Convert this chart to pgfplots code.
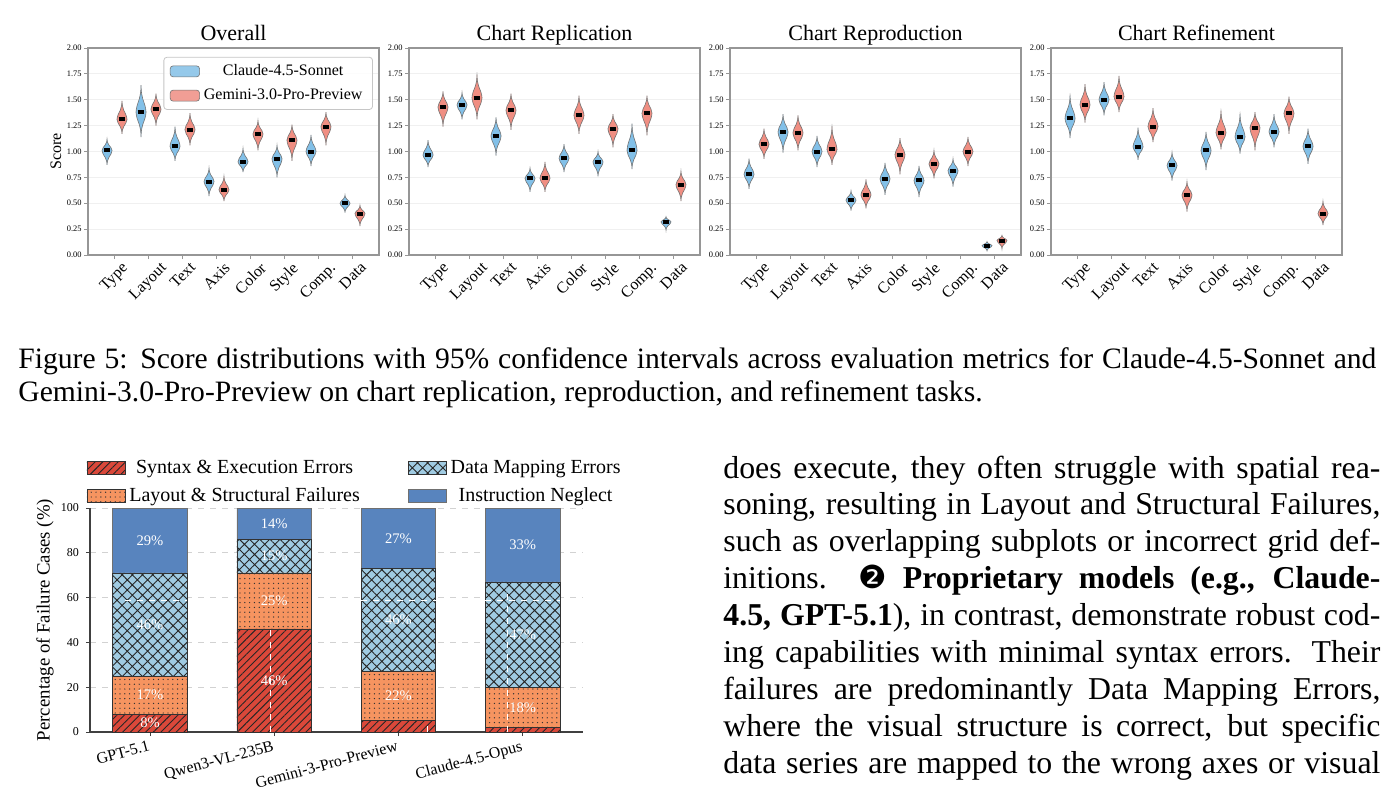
\documentclass[border=0pt]{standalone}
\usepackage{fontspec}
\setmainfont{Liberation Serif}
\newfontfamily\djv{DejaVu Sans}
\usepackage{pgfplots}
\pgfplotsset{compat=1.18}
\usetikzlibrary{patterns.meta}

\definecolor{vblue}{RGB}{130,192,232}
\definecolor{vred}{RGB}{240,142,130}
\definecolor{vedge}{RGB}{115,115,115}
\definecolor{cSyn}{RGB}{218,72,58}
\definecolor{cLay}{RGB}{246,148,96}
\definecolor{cMap}{RGB}{160,203,226}
\definecolor{cIns}{RGB}{88,132,190}
\definecolor{bedge}{RGB}{50,50,50}
\definecolor{frm}{RGB}{150,150,150}

% violin: #1 x, #2 low tip, #3 median, #4 high tip, #5 colour
\newcommand{\V}[5]{%
\pgfmathsetmacro\vx{#1}%
\pgfmathsetmacro\da{#3-#2}\pgfmathsetmacro\db{#4-#3}%
\pgfmathsetmacro\ya{#3-0.75*\da}\pgfmathsetmacro\yb{#3-0.5*\da}\pgfmathsetmacro\yc{#3-0.25*\da}%
\pgfmathsetmacro\yd{#3+0.25*\db}\pgfmathsetmacro\ye{#3+0.5*\db}\pgfmathsetmacro\yf{#3+0.75*\db}%
\pgfmathsetmacro\ra{\vx+0.011}\pgfmathsetmacro\rb{\vx+0.05}\pgfmathsetmacro\rc{\vx+0.115}\pgfmathsetmacro\rd{\vx+0.148}%
\pgfmathsetmacro\la{\vx-0.011}\pgfmathsetmacro\lb{\vx-0.05}\pgfmathsetmacro\lc{\vx-0.115}\pgfmathsetmacro\ld{\vx-0.148}%
\pgfmathsetmacro\ml{\vx-0.1}\pgfmathsetmacro\mr{\vx+0.1}%
\edef\tmp{\noexpand\addplot[fill=#5, draw=vedge, line width=0.3pt, smooth, tension=0.55, forget plot] coordinates {(\vx,#2) (\ra,\ya) (\rb,\yb) (\rc,\yc) (\rd,#3) (\rc,\yd) (\rb,\ye) (\ra,\yf) (\vx,#4) (\la,\yf) (\lb,\ye) (\lc,\yd) (\ld,#3) (\lc,\yc) (\lb,\yb) (\la,\ya) (\vx,#2)} -- cycle;}\tmp
\edef\tmp{\noexpand\addplot[black, line width=2pt, forget plot] coordinates {(\ml,#3) (\mr,#3)};}\tmp
}
\newcommand{\VB}[4]{\V{#1-0.22}{#2}{#3}{#4}{vblue}}
\newcommand{\VR}[4]{\V{#1+0.22}{#2}{#3}{#4}{vred}}

\pgfplotsset{
 vio/.style={
  scale only axis, width=145.5pt, height=103.5pt, anchor=north west,
  xmin=-0.78, xmax=7.78, ymin=0, ymax=2,
  xtick={0,1,2,3,4,5,6,7},
  xticklabels={\rotatebox{45}{Type},\rotatebox{45}{Layout},\rotatebox{45}{Text},\rotatebox{45}{Axis},\rotatebox{45}{Color},\rotatebox{45}{Style},\rotatebox{45}{Comp.},\rotatebox{45}{Data}},
  xticklabel style={font=\fontsize{8}{9}\selectfont, anchor=north, inner sep=1pt},
  ytick={0,0.25,0.5,0.75,1,1.25,1.5,1.75,2},
  yticklabel style={font=\fontsize{4.2}{5}\selectfont, inner sep=1pt,
    /pgf/number format/.cd, fixed, fixed zerofill, precision=2, assume math mode=true},
  ymajorgrids, major grid style={gray!12, line width=0.4pt},
  axis line style={draw=frm, line width=0.6pt},
  tick style={draw=frm, line width=0.4pt}, major tick length=2pt, tick align=outside,
  xtick pos=bottom, ytick pos=left,
  title style={font=\fontsize{11}{13}\selectfont, at={(0.5,1)}, anchor=base, yshift=-2pt},
 },
 barax/.style={
  scale only axis, width=246.5pt, height=112pt, anchor=north west, at={(45pt,-254pt)},
  xmin=-0.483, xmax=3.486, ymin=0, ymax=100,
 },
 barleg/.style={legend image code/.code={\draw[##1] (0pt,-3.15pt) rectangle (19pt,3.15pt);}},
}

\begin{document}
\begin{tikzpicture}
\useasboundingbox (0,0) rectangle (696pt,-404.5pt);

% ---------------- Overall ----------------
\begin{axis}[vio, at={(44pt,-24pt)}, title={Overall},
  ylabel={Score}, ylabel style={font=\fontsize{8}{9}\selectfont, at={(axis description cs:-0.11,0.5)}, anchor=center},
  legend style={at={(0.979,0.957)}, anchor=north east, font=\fontsize{8}{9}\selectfont,
    draw=gray!45, rounded corners=1.5pt, fill=white, fill opacity=0.85, text opacity=1,
    inner xsep=3pt, inner ysep=1.5pt, row sep=1.2pt},
  legend image code/.code={\draw[#1] (0pt,-2.75pt) rectangle (14.7pt,2.75pt);},
]
\addlegendimage{fill=vblue, draw=vedge, line width=0.3pt}
\addlegendentry{Claude-4.5-Sonnet}
\addlegendimage{fill=vred, draw=vedge, line width=0.3pt}
\addlegendentry{Gemini-3.0-Pro-Preview}
\VB{0}{0.87}{1.01}{1.12}\VR{0}{1.17}{1.31}{1.49}
\VB{1}{1.14}{1.38}{1.64}\VR{1}{1.25}{1.41}{1.56}
\VB{2}{0.91}{1.05}{1.24}\VR{2}{1.06}{1.21}{1.37}
\VB{3}{0.57}{0.71}{0.84}\VR{3}{0.52}{0.63}{0.76}
\VB{4}{0.80}{0.90}{1.03}\VR{4}{1.01}{1.17}{1.30}
\VB{5}{0.75}{0.93}{1.06}\VR{5}{0.91}{1.11}{1.26}
\VB{6}{0.86}{1.00}{1.16}\VR{6}{1.06}{1.24}{1.38}
\VB{7}{0.41}{0.50}{0.58}\VR{7}{0.28}{0.40}{0.48}
\end{axis}

% ---------------- Chart Replication ----------------
\begin{axis}[vio, at={(204.5pt,-24pt)}, title={Chart Replication}]
\VB{0}{0.85}{0.965}{1.11}\VR{0}{1.24}{1.43}{1.58}
\VB{1}{1.31}{1.45}{1.57}\VR{1}{1.31}{1.52}{1.74}
\VB{2}{0.96}{1.15}{1.33}\VR{2}{1.21}{1.40}{1.56}
\VB{3}{0.61}{0.74}{0.84}\VR{3}{0.61}{0.74}{0.90}
\VB{4}{0.80}{0.935}{1.07}\VR{4}{1.17}{1.35}{1.54}
\VB{5}{0.76}{0.90}{1.00}\VR{5}{1.04}{1.22}{1.36}
\VB{6}{0.83}{1.01}{1.27}\VR{6}{1.155}{1.37}{1.54}
\VB{7}{0.24}{0.32}{0.37}\VR{7}{0.52}{0.68}{0.81}
\end{axis}

% ---------------- Chart Reproduction ----------------
\begin{axis}[vio, at={(365pt,-24pt)}, title={Chart Reproduction}]
\VB{0}{0.64}{0.78}{0.93}\VR{0}{0.93}{1.07}{1.22}
\VB{1}{0.99}{1.19}{1.36}\VR{1}{1.01}{1.18}{1.35}
\VB{2}{0.85}{1.00}{1.15}\VR{2}{0.87}{1.02}{1.24}
\VB{3}{0.43}{0.53}{0.62}\VR{3}{0.45}{0.58}{0.73}
\VB{4}{0.58}{0.735}{0.89}\VR{4}{0.78}{0.97}{1.13}
\VB{5}{0.56}{0.72}{0.86}\VR{5}{0.74}{0.88}{1.01}
\VB{6}{0.66}{0.815}{0.93}\VR{6}{0.86}{1.00}{1.14}
\VB{7}{0.04}{0.09}{0.13}\VR{7}{0.06}{0.14}{0.19}
\end{axis}

% ---------------- Chart Refinement ----------------
\begin{axis}[vio, at={(525.5pt,-24pt)}, title={Chart Refinement}]
\VB{0}{1.13}{1.32}{1.54}\VR{0}{1.28}{1.45}{1.65}
\VB{1}{1.35}{1.50}{1.67}\VR{1}{1.38}{1.53}{1.73}
\VB{2}{0.92}{1.045}{1.23}\VR{2}{1.09}{1.24}{1.42}
\VB{3}{0.72}{0.865}{0.99}\VR{3}{0.42}{0.58}{0.71}
\VB{4}{0.82}{1.01}{1.19}\VR{4}{1.02}{1.18}{1.39}
\VB{5}{0.98}{1.14}{1.36}\VR{5}{1.01}{1.23}{1.38}
\VB{6}{1.04}{1.19}{1.36}\VR{6}{1.17}{1.37}{1.53}
\VB{7}{0.88}{1.05}{1.22}\VR{7}{0.29}{0.40}{0.52}
\end{axis}

% ---------------- Caption ----------------
\node[anchor=base west, inner sep=0pt] at (9pt,-184pt) {\fontsize{14.8}{16.5}\selectfont\makebox[679pt][s]{Figure 5: Score distributions with 95\% confidence intervals across evaluation metrics for Claude-4.5-Sonnet and}};
\node[anchor=base west, inner sep=0pt] at (9pt,-200.5pt) {\fontsize{14.8}{16.5}\selectfont Gemini-3.0-Pro-Preview on chart replication, reproduction, and refinement tasks.};

% ---------------- Stacked bar chart ----------------
\begin{axis}[barax, ybar stacked, bar width=0.6,
  xtick={0,1,2,3}, xticklabels={GPT-5.1,Qwen3-VL-235B,Gemini-3-Pro-Preview,Claude-4.5-Opus},
  xticklabel style={rotate=15, anchor=north east, font=\fontsize{8}{9}\selectfont, inner sep=1.5pt},
  ytick={0,20,40,60,80,100},
  yticklabel style={font=\fontsize{6}{7}\selectfont, /pgf/number format/assume math mode=true},
  axis x line*=bottom, axis y line*=left,
  axis line style={draw=black!75, line width=0.6pt, -},
  tick style={draw=black!75, line width=0.4pt}, major tick length=2pt, tick align=outside,
  ymajorgrids, major grid style={dashed, gray!35, line width=0.4pt},
  ylabel={Percentage of Failure Cases (\%)},
  ylabel style={font=\fontsize{9.4}{11}\selectfont, at={(axis description cs:-0.0913,0.5)}, anchor=center},
  legend style={at={(axis description cs:-0.02,1.252)}, anchor=north west, draw=none, fill=none,
    font=\fontsize{10}{12}\selectfont, legend columns=2, transpose legend,
    /tikz/every even column/.append style={column sep=22pt}, row sep=1.5pt},
]
\addplot[barleg, fill=cSyn, draw=bedge, line width=0.4pt, postaction={pattern color=black!85, pattern={Lines[angle=45,distance=2.7pt,line width=0.45pt]}}]
  coordinates {(0,8) (1,46) (2,5) (3,2)};
\addlegendentry{Syntax \& Execution Errors}
\addplot[barleg, fill=cLay, draw=bedge, line width=0.4pt, postaction={pattern color=black!80, pattern={Dots[distance=2.4pt,radius=0.35pt]}}]
  coordinates {(0,17) (1,25) (2,22) (3,18)};
\addlegendentry{Layout \& Structural Failures}
\addplot[barleg, fill=cMap, draw=bedge, line width=0.4pt, postaction={pattern color=black!85, pattern={Hatch[angle=45,distance=3.6pt,line width=0.45pt]}}]
  coordinates {(0,46) (1,15) (2,46) (3,47)};
\addlegendentry{Data Mapping Errors}
\addplot[barleg, fill=cIns, draw=bedge!70, line width=0.4pt]
  coordinates {(0,29) (1,14) (2,27) (3,33)};
\addlegendentry{Instruction Neglect}
\end{axis}

% value labels on the segments, and the white dashed guide lines seen over the bars
\begin{axis}[barax, hide axis]
\addplot[white, dashed, line width=0.45pt] coordinates {(-0.2,58.7) (0.3,58.7)};
\addplot[white, dashed, line width=0.45pt] coordinates {(1.7,58.7) (2.3,58.7)};
\addplot[white, dashed, line width=0.45pt] coordinates {(2.7,58.7) (3.3,58.7)};
\addplot[white, dashed, line width=0.45pt] coordinates {(0.966,0) (0.966,46)};
\addplot[white, dashed, line width=0.45pt] coordinates {(2.879,0) (2.879,62)};
\addplot[white, dashed, line width=0.45pt] coordinates {(2.236,0) (2.236,5)};
\addplot[only marks, mark=none, nodes near coords, point meta=explicit symbolic,
  nodes near coords style={anchor=center, text=white, font=\fontsize{7.3}{8}\selectfont, inner sep=0pt}]
  coordinates {
  (0,4)[8\%] (0,16.5)[17\%] (0,48)[46\%] (0,85.5)[29\%]
  (1,23)[46\%] (1,58.5)[25\%] (1,78.5)[15\%] (1,93)[14\%]
  (2,16)[22\%] (2,50)[46\%] (2,86.5)[27\%]
  (3,11)[18\%] (3,43.5)[47\%] (3,83.5)[33\%]
  };
\end{axis}

% ---------------- Paragraph ----------------
\begin{scope}[every node/.style={anchor=base west, inner sep=0pt, font=\fontsize{15.9}{18}\selectfont}]
\node at (361.5pt,-239pt)    {\makebox[328.5pt][s]{does execute, they often struggle with spatial rea-}};
\node at (361.5pt,-257.45pt) {\makebox[328.5pt][s]{soning, resulting in Layout and Structural Failures,}};
\node at (361.5pt,-275.9pt)  {\makebox[328.5pt][s]{such as overlapping subplots or incorrect grid def-}};
\node at (361.5pt,-294.35pt) {\makebox[328.5pt][s]{initions.\quad{\djv ❷} \textbf{Proprietary models (e.g., Claude-}}};
\node at (361.5pt,-312.8pt)  {\makebox[328.5pt][s]{\textbf{4.5, GPT-5.1}), in contrast, demonstrate robust cod-}};
\node at (361.5pt,-331.25pt) {\makebox[328.5pt][s]{ing capabilities with minimal syntax errors. Their}};
\node at (361.5pt,-349.7pt)  {\makebox[328.5pt][s]{failures are predominantly Data Mapping Errors,}};
\node at (361.5pt,-368.15pt) {\makebox[328.5pt][s]{where the visual structure is correct, but specific}};
\node at (361.5pt,-386.6pt)  {\makebox[328.5pt][s]{data series are mapped to the wrong axes or visual}};
\end{scope}
\end{tikzpicture}
\end{document}
